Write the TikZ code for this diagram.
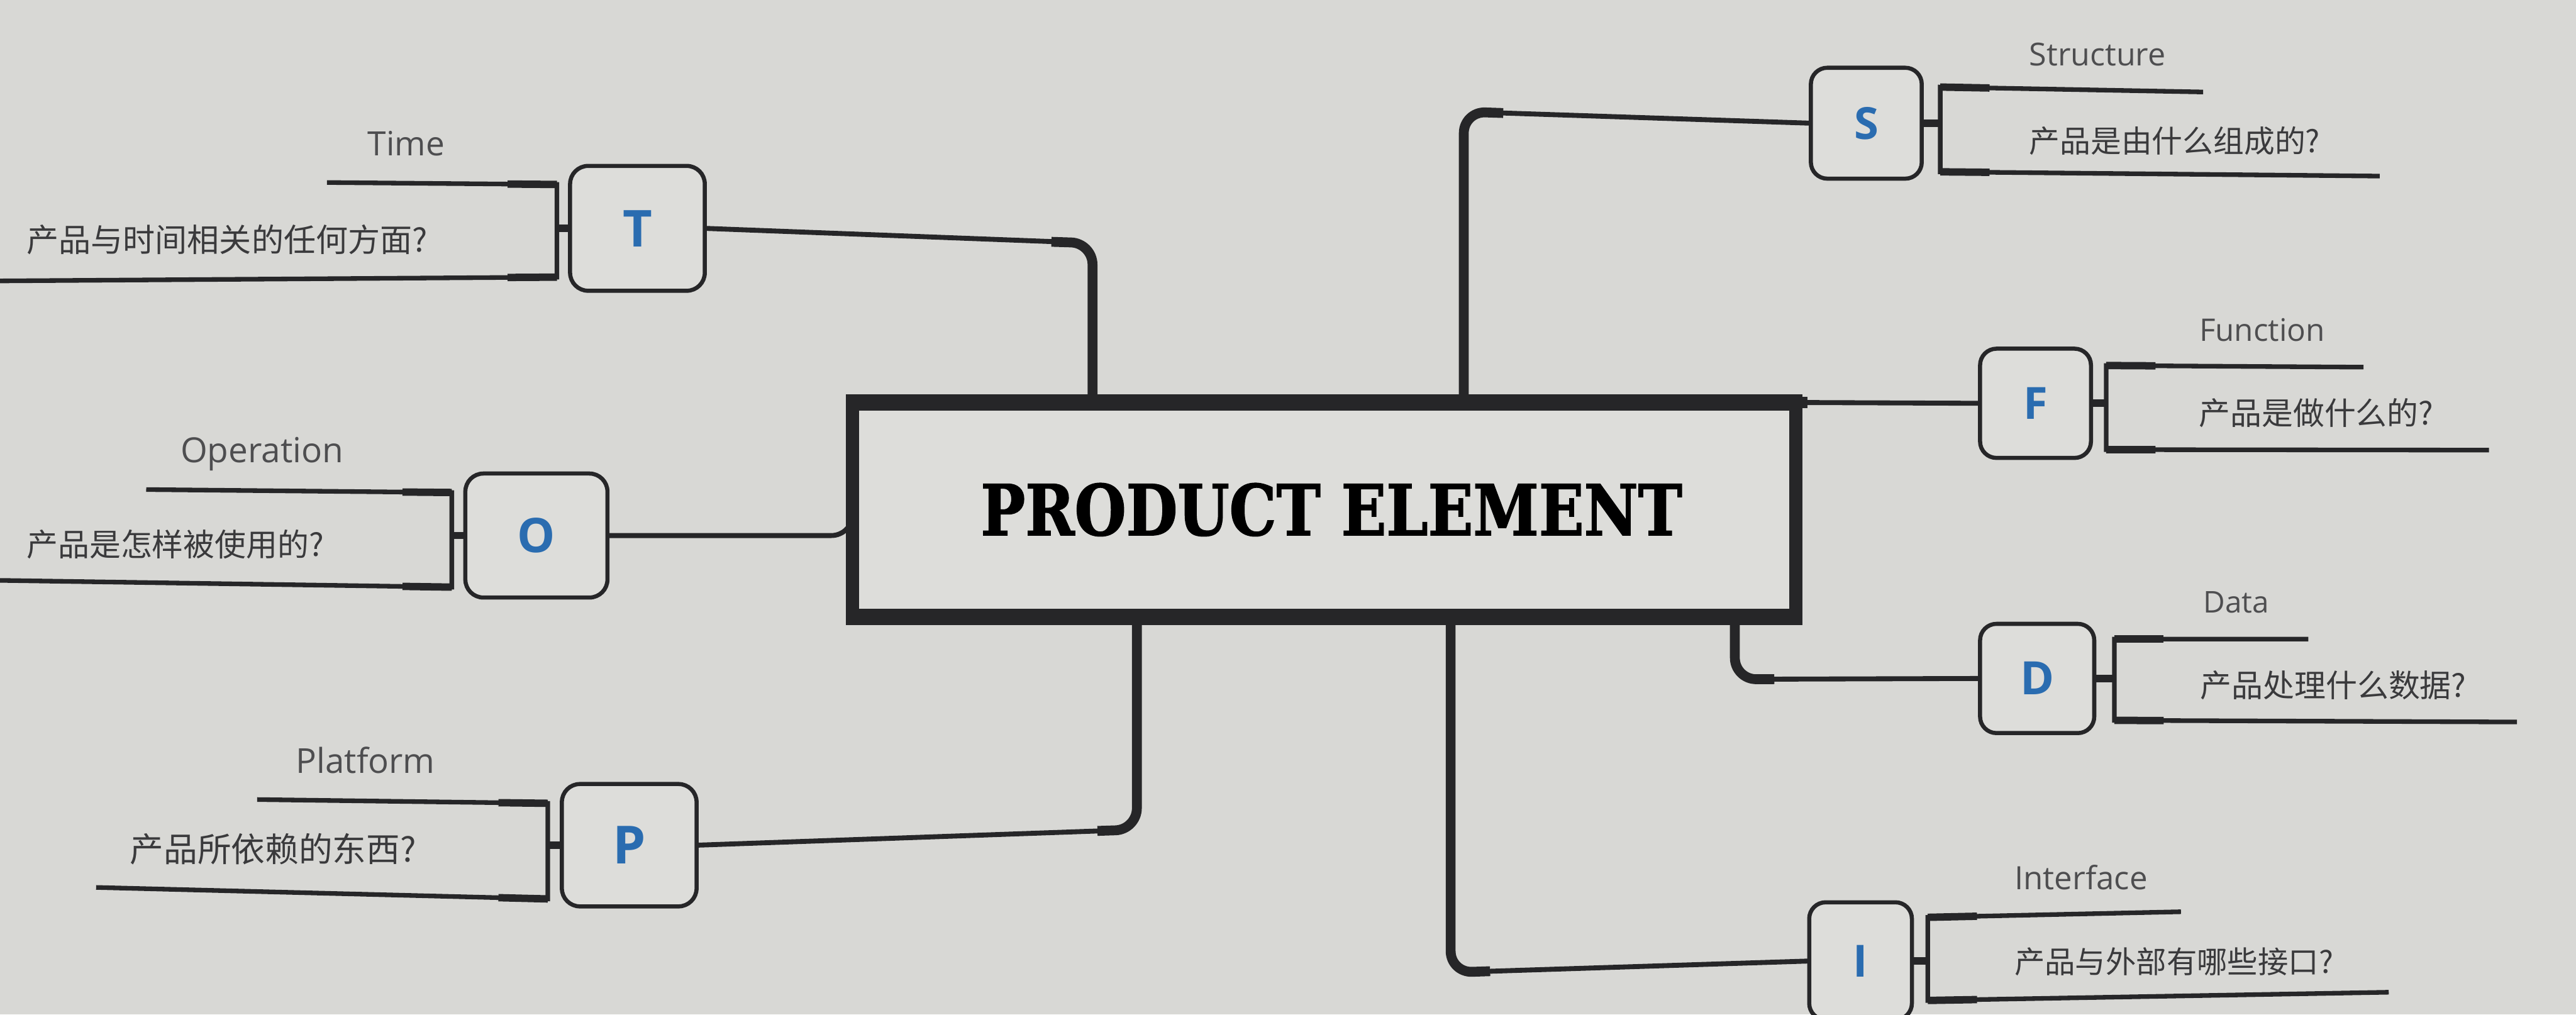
\documentclass[tikz,border=0pt]{standalone}
\usepackage{fontspec}
\usepackage{graphicx}
\setmainfont{Open Sans}
\newfontfamily\cjk{Noto Sans CJK SC}
\newfontfamily\titlefont{DejaVu Serif}[BoldFeatures={FakeBold=1.5}]
\newfontfamily\letterfont{Open Sans}
\usetikzlibrary{calc}
\definecolor{bg}{RGB}{216,216,213}
\definecolor{boxbg}{RGB}{221,221,218}
\definecolor{ink}{RGB}{38,38,40}
\definecolor{labelgray}{RGB}{78,78,80}
\definecolor{qgray}{RGB}{58,58,60}
\definecolor{letterblue}{RGB}{42,108,176}
\pgfdeclarelayer{paper}
\pgfdeclarelayer{links}
\pgfsetlayers{paper,links,main}
\tikzset{
  letterbox/.style={draw=ink, line width=2.5pt, fill=boxbg, inner sep=0pt, outer sep=0pt, text=letterblue},
  thickconn/.style={draw=ink, line width=6pt, rounded corners=13pt},
  thinconn/.style={draw=ink, line width=3pt, rounded corners=13pt},
  leafline/.style={draw=ink, line width=2.8pt, line join=miter},
  leafstub/.style={draw=ink, line width=4.5pt},
  topiclabel/.style={inner sep=0pt, anchor=base west, text=labelgray},
  question/.style={inner sep=0pt, anchor=west, text=qgray},
}
% #1 node, #2 side anchor, #3 x of bracket, #4 y top, #5 y bottom,
% #6 x top end, #7 y top end, #8 x bottom end, #9 y bottom end
\newcommand{\leafbracket}[9]{%
  \coordinate (#1-te) at (#6,#7);
  \coordinate (#1-be) at (#8,#9);
  \coordinate (#1-tc) at (#3,#4);
  \coordinate (#1-bc) at (#3,#5);
  \draw[leafline] (#1-te) -- (#1-tc) -- (#1-bc) -- (#1-be);
  \draw[leafstub] ($(#1-tc)!30pt!(#1-te)$) -- (#1-tc);
  \draw[leafstub] ($(#1-bc)!30pt!(#1-be)$) -- (#1-bc);
  \draw[leafstub] (#1.#2) -- (#1.#2 -| #1-tc);
}
\newcommand{\bigletter}[2]{\letterfont\bfseries\fontsize{#1pt}{#1pt}\selectfont #2}
\begin{document}
\begin{tikzpicture}[x=1pt,y=-1pt]
\useasboundingbox (0,0) rectangle (1568,617.6);
\begin{pgfonlayer}{paper}
\fill[bg] (0,0) rectangle (1568,617.6);
\end{pgfonlayer}

% central box
\node[minimum width=574pt, minimum height=130.5pt, inner sep=0pt, outer sep=0pt, fill=boxbg] (PE) at (806,310.25)
  {\hspace*{9pt}\resizebox{427pt}{31.7pt}{\titlefont\bfseries PRODUCT ELEMENT}};
\draw[ink,line width=8pt] (PE.north west) rectangle (PE.south east);
\draw[ink,line width=10pt] ([xshift=-4pt]PE.north west) -- ([xshift=4pt]PE.north east);
\draw[ink,line width=10pt] ([xshift=-4pt]PE.south west) -- ([xshift=4pt]PE.south east);

% letter boxes
\node[letterbox, rounded corners=11pt, minimum width=82pt, minimum height=76pt] (T) at (388,139) {\bigletter{31}{T}};
\node[letterbox, rounded corners=11pt, minimum width=86.5pt, minimum height=75.5pt] (O) at (326.5,326) {\bigletter{29}{O}};
\node[letterbox, rounded corners=11pt, minimum width=82pt, minimum height=74.5pt] (P) at (383,514.5) {\bigletter{32}{P}};
\node[letterbox, rounded corners=10pt, minimum width=67.5pt, minimum height=67.5pt] (S) at (1136,75) {\bigletter{27}{S}};
\node[letterbox, rounded corners=10pt, minimum width=67.5pt, minimum height=66.5pt] (F) at (1239,245.5) {\bigletter{27}{F}};
\node[letterbox, rounded corners=10pt, minimum width=69.5pt, minimum height=66.5pt] (D) at (1240,413) {\bigletter{28}{D}};
\node[letterbox, rounded corners=10pt, minimum width=62.5pt, minimum height=71.5pt] (I) at (1132.5,585) {\bigletter{27}{I}};

% connectors from the central box
\begin{pgfonlayer}{links}
\draw[thinconn] (T.east) -- (665,148) -- (665,0 |- PE.north);
\draw[thickconn] (640,147.2) -- (665,148) -- (665,0 |- PE.north);
\draw[thinconn] (S.west) -- (891,68) -- (891,0 |- PE.north);
\draw[thickconn] (915,68.8) -- (891,68) -- (891,0 |- PE.north);
\draw[thinconn] (P.east) -- (692,505) -- (692,0 |- PE.south);
\draw[thickconn] (668,505.8) -- (692,505) -- (692,0 |- PE.south);
\draw[thinconn] (D.west) -- (1056,413.5) -- (1056,0 |- PE.south);
\draw[thickconn] (1080,413.4) -- (1056,413.5) -- (1056,0 |- PE.south);
\draw[thinconn] (I.west) -- (883,592) -- (883,0 |- PE.south);
\draw[thickconn] (907,591.2) -- (883,592) -- (883,0 |- PE.south);
\draw[thinconn] (O.east) -- (O.east -| PE.west) -- ($(O.east -| PE.west)+(0,-20)$);
\draw[thinconn] (PE.north east) -- (F.west);
\draw[ink, line width=7pt] (PE.north east) -- ++(7,0);
\end{pgfonlayer}

% leaf brackets
\leafbracket{T}{west}{339}{112.3}{168.7}{199}{111.1}{0}{171}
\leafbracket{O}{west}{275}{299.8}{357.4}{89}{298}{0}{353.3}
\leafbracket{P}{west}{333.4}{489}{547.2}{156.5}{486.7}{58.5}{540.2}
\leafbracket{S}{east}{1181}{53}{104.6}{1341}{56}{1448.5}{107.2}
\leafbracket{F}{east}{1282}{222.5}{273.7}{1438.6}{223.5}{1515}{274}
\leafbracket{D}{east}{1287}{389}{438.5}{1405}{389}{1532}{439.5}
\leafbracket{I}{east}{1173.4}{558.4}{609}{1327.5}{555}{1454}{604}

% topic labels
\node[topiclabel] (T-lab) at (223.7,94.6) {\resizebox{46.8pt}{!}{Time}};
\node[topiclabel] (O-lab) at (109.7,281.5) {\resizebox{99.3pt}{!}{Operation}};
\node[topiclabel] (P-lab) at (180,470.8) {\resizebox{84.6pt}{!}{Platform}};
\node[topiclabel] (S-lab) at (1235,40) {\resizebox{83pt}{!}{Structure}};
\node[topiclabel] (F-lab) at (1338.5,207.5) {\resizebox{76.5pt}{!}{Function}};
\node[topiclabel] (D-lab) at (1341,373) {\resizebox{40pt}{!}{Data}};
\node[topiclabel] (I-lab) at (1226,541.3) {\resizebox{81pt}{!}{Interface}};

% questions
\node[question] (T-q) at (16,146) {\resizebox{244pt}{!}{\cjk 产品与时间相关的任何方面?}};
\node[question] (O-q) at (16,331.5) {\resizebox{181pt}{!}{\cjk 产品是怎样被使用的?}};
\node[question] (P-q) at (79,517) {\resizebox{174pt}{!}{\cjk 产品所依赖的东西?}};
\node[question] (S-q) at (1235,85.7) {\resizebox{177pt}{!}{\cjk 产品是由什么组成的?}};
\node[question] (F-q) at (1338.4,251.5) {\resizebox{142.5pt}{!}{\cjk 产品是做什么的?}};
\node[question] (D-q) at (1339,417.3) {\resizebox{162pt}{!}{\cjk 产品处理什么数据?}};
\node[question] (I-q) at (1226,585.4) {\resizebox{194pt}{!}{\cjk 产品与外部有哪些接口?}};
\end{tikzpicture}
\end{document}
